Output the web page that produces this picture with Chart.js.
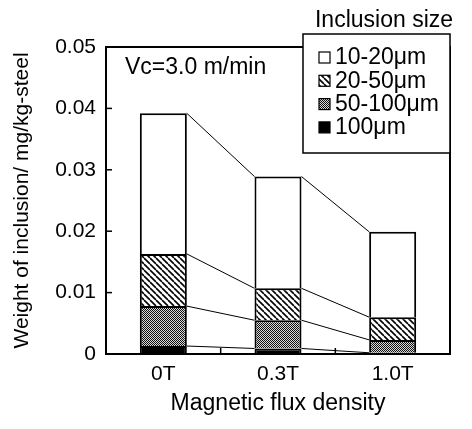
<!DOCTYPE html>
<html><head><meta charset="utf-8">
<script src="https://cdn.jsdelivr.net/npm/chart.js@4"></script>
<style>html,body{margin:0;padding:0;background:#fff}</style>
</head><body>
<canvas id="c" width="472" height="429"></canvas>
<script>
const categories = ['0T', '0.3T', '1.0T'];
const sizeLabels = ['10-20μm', '20-50μm', '50-100μm', '100μm'];
const w10_20 = [0.0229, 0.0182, 0.0139];
const w20_50 = [0.0085, 0.0052, 0.0037];
const w50_100 = [0.0065, 0.0046, 0.0021];
const w100 = [0.0013, 0.0009, 0.0002];
const yTickLabels = ['0', '0.01', '0.02', '0.03', '0.04', '0.05'];
const xTitle = 'Magnetic flux density';
const yTitle = 'Weight of inclusion/ mg/kg-steel';
const noteText = 'Vc=3.0 m/min';
const legendTitle = 'Inclusion size';

const FONT = "'Liberation Sans', Arial, Helvetica, sans-serif";
Chart.defaults.font.family = FONT;
Chart.defaults.color = '#000';

const canvas = document.getElementById('c');
const mainCtx = canvas.getContext('2d');

function makeHatch() {
  const s = 6;
  const c = document.createElement('canvas'); c.width = s; c.height = s;
  const g = c.getContext('2d');
  g.fillStyle = '#fff'; g.fillRect(0, 0, s, s);
  g.strokeStyle = '#000'; g.lineWidth = 1.6;
  for (let k = -1; k <= 1; k++) {
    g.beginPath(); g.moveTo(k * s, 0); g.lineTo(k * s + s, s); g.stroke();
  }
  return mainCtx.createPattern(c, 'repeat');
}
function makeDots() {
  const c = document.createElement('canvas'); c.width = 2; c.height = 2;
  const g = c.getContext('2d');
  g.fillStyle = '#d8d8d8'; g.fillRect(0, 0, 2, 2);
  g.fillStyle = '#111'; g.fillRect(0, 0, 1, 1); g.fillRect(1, 1, 1, 1);
  return mainCtx.createPattern(c, 'repeat');
}
const hatchPat = makeHatch();
const dotPat = makeDots();
const fills = { '10-20μm': '#fff', '20-50μm': hatchPat, '50-100μm': dotPat, '100μm': '#000' };

const seriesBySize = { '10-20μm': w10_20, '20-50μm': w20_50, '50-100μm': w50_100, '100μm': w100 };
// stacking order bottom -> top
const stackOrder = ['100μm', '50-100μm', '20-50μm', '10-20μm'];

const datasets = stackOrder.map(lbl => ({
  label: lbl,
  data: seriesBySize[lbl],
  backgroundColor: fills[lbl],
  borderColor: '#000',
  borderWidth: 2,
  barPercentage: 0.41,
  categoryPercentage: 1.0
}));

const decor = {
  id: 'decor',
  afterDatasetsDraw(chart) {
    const ctx = chart.ctx;
    ctx.save();
    ctx.strokeStyle = '#000';
    ctx.lineWidth = 1;
    chart.data.datasets.forEach((ds, d) => {
      const meta = chart.getDatasetMeta(d);
      for (let i = 0; i < meta.data.length - 1; i++) {
        const a = meta.data[i], b = meta.data[i + 1];
        ctx.beginPath();
        ctx.moveTo(a.x + a.width / 2, a.y);
        ctx.lineTo(b.x - b.width / 2, b.y);
        ctx.stroke();
      }
    });
    ctx.restore();
  },
  afterDraw(chart) {
    const ctx = chart.ctx;
    const ca = chart.chartArea;
    const ys = chart.scales.y, xs = chart.scales.x;
    ctx.save();
    // frame
    ctx.strokeStyle = '#000';
    ctx.lineWidth = 2;
    ctx.strokeRect(ca.left, ca.top, ca.right - ca.left, ca.bottom - ca.top);
    // inward y ticks
    ctx.lineWidth = 1.5;
    ys.ticks.forEach(t => {
      const y = ys.getPixelForValue(t.value);
      ctx.beginPath(); ctx.moveTo(ca.left, y); ctx.lineTo(ca.left + 6, y); ctx.stroke();
    });
    // inward x ticks at category boundaries
    for (let i = 0; i < categories.length - 1; i++) {
      const x = (xs.getPixelForValue(i) + xs.getPixelForValue(i + 1)) / 2;
      ctx.beginPath(); ctx.moveTo(x, ca.bottom); ctx.lineTo(x, ca.bottom - 6); ctx.stroke();
    }
    // note
    ctx.fillStyle = '#000';
    ctx.font = '23px ' + FONT;
    ctx.textBaseline = 'middle';
    ctx.textAlign = 'left';
    ctx.fillText(noteText, 125, 68);
    // legend
    const bx = 303, by = 34, bw = 147, bh = 119;
    ctx.fillStyle = '#fff';
    ctx.fillRect(bx, by, bw, bh);
    ctx.lineWidth = 1.5;
    ctx.strokeRect(bx, by, bw, bh);
    ctx.fillStyle = '#000';
    ctx.textAlign = 'center';
    ctx.font = '23px ' + FONT;
    ctx.fillText(legendTitle, 384, 21);
    ctx.textAlign = 'left';
    sizeLabels.forEach((lbl, i) => {
      const cy = 57 + i * 23.3;
      ctx.fillStyle = fills[lbl];
      ctx.fillRect(319, cy - 5, 11, 11);
      ctx.lineWidth = 1.2;
      ctx.strokeStyle = '#000';
      ctx.strokeRect(319, cy - 5, 11, 11);
      ctx.fillStyle = '#000';
      ctx.fillText(lbl, 335, cy + 1);
    });
    ctx.restore();
  }
};

new Chart(canvas, {
  type: 'bar',
  data: { labels: categories, datasets },
  options: {
    responsive: false,
    animation: false,
    layout: { padding: { top: 47, right: 22, left: 0, bottom: 0 } },
    plugins: { legend: { display: false }, tooltip: { enabled: false } },
    scales: {
      x: {
        stacked: true,
        grid: { display: false, drawTicks: false },
        border: { display: false },
        ticks: { padding: 8, font: { size: 21 }, color: '#000' },
        title: { display: true, text: xTitle, font: { size: 23 }, color: '#000', padding: { top: 0, bottom: 12 } },
        afterFit(s) { s.height = 75; }
      },
      y: {
        stacked: true,
        min: 0, max: 0.05,
        grid: { display: false, drawTicks: false },
        border: { display: false },
        ticks: { stepSize: 0.01, padding: 10, font: { size: 21 }, color: '#000',
          callback: (v, i) => yTickLabels[i] },
        title: { display: true, text: yTitle, font: { size: 21 }, color: '#000', padding: { top: 10, bottom: 0 } },
        afterFit(s) { s.width = 106; }
      }
    }
  },
  plugins: [decor]
});
</script>
</body></html>
